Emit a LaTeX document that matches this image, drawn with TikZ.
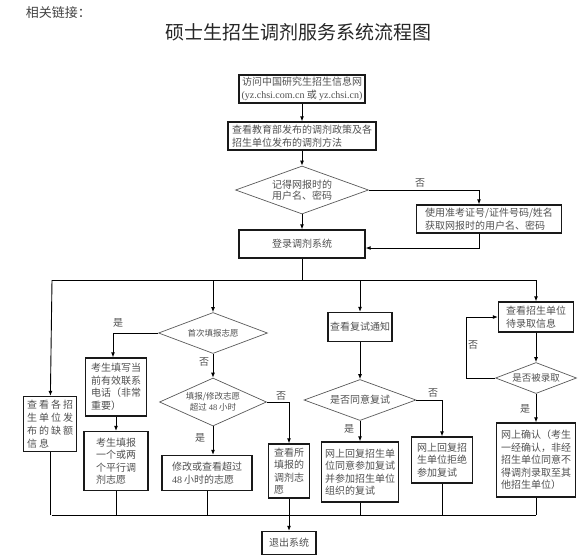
\documentclass[tikz,border=0pt]{standalone}
\usepackage{fontspec}
\setmainfont{Noto Sans CJK SC}
\newfontfamily\lat{Liberation Serif}
\newfontfamily\cjkw[LetterSpace=20]{Noto Sans CJK SC}
\usetikzlibrary{positioning}
\usetikzlibrary{shapes.geometric,arrows.meta}
\definecolor{txtgray}{HTML}{505050}

\begin{document}
\begin{tikzpicture}[x=1pt,y=-1pt, >={Latex[length=5pt,width=4pt]}, line width=0.9pt,
  boxnode/.style={rectangle, draw=black!90, line width=1.3pt, text=txtgray, font=\fontsize{10}{12.5}\selectfont, inner sep=2pt, align=left},
  decnode/.style={diamond, draw=black!65, line width=0.7pt, text=txtgray, font=\fontsize{10}{11.5}\selectfont, inner sep=0pt, align=center},
  yesno/.style={text=txtgray, font=\fontsize{10}{12}\selectfont, inner sep=0pt}]
            \useasboundingbox (0,0) rectangle (580,558);
            %Nodes
            \node[font=\fontsize{13}{15}\selectfont, text=black!75, anchor=west] (links) at (22,13) {相关链接：};
            \node[font=\fontsize{19}{21}\selectfont, text=black!85] (title) at (298,32) {硕士生招生调剂服务系统流程图};
            \node[boxnode, minimum width=126, minimum height=28, align=center] (visit) at (302,89) {访问中国研究生招生信息网\\{\lat (yz.chsi.com.cn} 或 {\lat yz.chsi.cn)}};
            \node[boxnode, minimum width=148, minimum height=28] (policy) at (302,136) {查看教育部发布的调剂政策及各\\招生单位发布的调剂方法};
            \node[decnode, shape aspect=2.77, minimum width=133, minimum height=48] (remember) at (302,190) {记得网报时的\\用户名、密码};
            \node[boxnode, minimum width=145, minimum height=28] (retrieve) at (489,219) {使用准考证号/证件号码/姓名\\获取网报时的用户名、密码};
            \node[boxnode, minimum width=126, minimum height=28, align=center] (login) at (302,244) {登录调剂系统};
            \coordinate (busa) at (52,280);
            \coordinate (busb) at (536,280);
            \node[decnode, shape aspect=2.66, minimum width=109, minimum height=41, font=\fontsize{8.5}{10}\selectfont] (first) at (213,333) {首次填报志愿};
            \node[boxnode, minimum width=61, minimum height=58] (phone) at (116,387) {考生填写当\\前有效联系\\电话（非常\\重要）};
            \node[decnode, shape aspect=2.23, minimum width=107, minimum height=48, font=\fontsize{8.5}{11}\selectfont] (over) at (213,402) {填报/修改志愿\\超过 {\lat 48} 小时};
            \node[boxnode, minimum width=53, minimum height=55, font=\cjkw\fontsize{10}{13}\selectfont] (vacancy) at (50,424) {查看各招\\生单位发\\布的缺额\\信息};
            \node[boxnode, minimum width=64, minimum height=59] (fillin) at (116,461) {考生填报\\一个或两\\个平行调\\剂志愿};
            \node[boxnode, minimum width=90, minimum height=35] (modify) at (207,473) {修改或查看超过\\{\lat 48} 小时的志愿};
            \node[boxnode, minimum width=41, minimum height=54] (viewsel) at (289,471) {查看所\\填报的\\调剂志\\愿};
            \node[boxnode, minimum width=54, minimum height=23, align=center] (quit) at (289,543) {退出系统};
            \node[boxnode, minimum width=64, minimum height=29, align=center] (notice) at (360,327) {查看复试通知};
            \node[decnode, shape aspect=2.73, minimum width=112, minimum height=41] (agree) at (360,400) {是否同意复试};
            \node[boxnode, minimum width=77, minimum height=60] (accept) at (360,472) {网上回复招生单\\位同意参加复试\\并参加招生单位\\组织的复试};
            \node[boxnode, minimum width=61, minimum height=46] (refuse) at (442,460) {网上回复招\\生单位拒绝\\参加复试};
            \node[boxnode, minimum width=75, minimum height=30] (pending) at (536,317) {查看招生单位\\待录取信息};
            \node[decnode, shape aspect=2.6, minimum width=81, minimum height=31, font=\fontsize{9.5}{11}\selectfont] (admit) at (536,378) {是否被录取};
            \node[boxnode, minimum width=79, minimum height=74] (confirm) at (536,460) {网上确认（考生\\一经确认，非经\\招生单位同意不\\得调剂录取至其\\他招生单位）};
            \coordinate (busc) at (52,515);
            \coordinate (busd) at (536,515);
            %Labels
            \node[yesno] (no1) at (420,183) {否};
            \node[yesno] (yes1) at (118,323) {是};
            \node[yesno] (no2) at (204,362) {否};
            \node[yesno] (yes2) at (200,438) {是};
            \node[yesno] (no3) at (281,396) {否};
            \node[yesno] (no4) at (433,393) {否};
            \node[yesno] (yes3) at (349,429) {是};
            \node[yesno] (no5) at (473,345) {否};
            \node[yesno] (yes4) at (525,409) {是};
            %Edges
            \draw[->] (visit) -- (policy);
            \draw[->] (policy) -- (remember);
            \draw[->] (remember) -- (login);
            \draw[->] (remember.east) -| ([xshift=-10]retrieve.north);
            \draw[->] ([xshift=-10]retrieve.south) |- ([yshift=-4]login.east);
            \draw (login) -- (login |- busa);
            \draw (busa) -- (busb);
            \draw[->] (busa) -- (vacancy);
            \draw[->] (first.north |- busa) -- (first);
            \draw[->] (notice.north |- busa) -- (notice);
            \draw[->] (busb) -- (pending);
            \draw[->] (first.west) -| ([xshift=-3]phone.north);
            \draw[->] (first) -- (over);
            \draw[->] (phone) -- (fillin);
            \draw[->] (over.south) -- (over.south |- modify.north);
            \draw[->] (over.east) -| (viewsel.north);
            \draw[->] (notice) -- (agree);
            \draw[->] (agree) -- (accept);
            \draw[->] (agree.east) -| (refuse.north);
            \draw[->] (pending) -- (admit);
            \draw[->] (admit.west) -- ++(-29,0) |- (pending.west);
            \draw[->] (admit) -- (confirm);
            \draw (vacancy) -- (vacancy |- busc);
            \draw (fillin) -- (fillin |- busc);
            \draw (modify) -- (modify |- busc);
            \draw (accept) -- (accept |- busc);
            \draw (refuse) -- (refuse |- busc);
            \draw (confirm) -- (confirm |- busc);
            \draw (busc) -- (busd);
            \draw[->] (viewsel) -- (quit);
        \end{tikzpicture}
\end{document}
